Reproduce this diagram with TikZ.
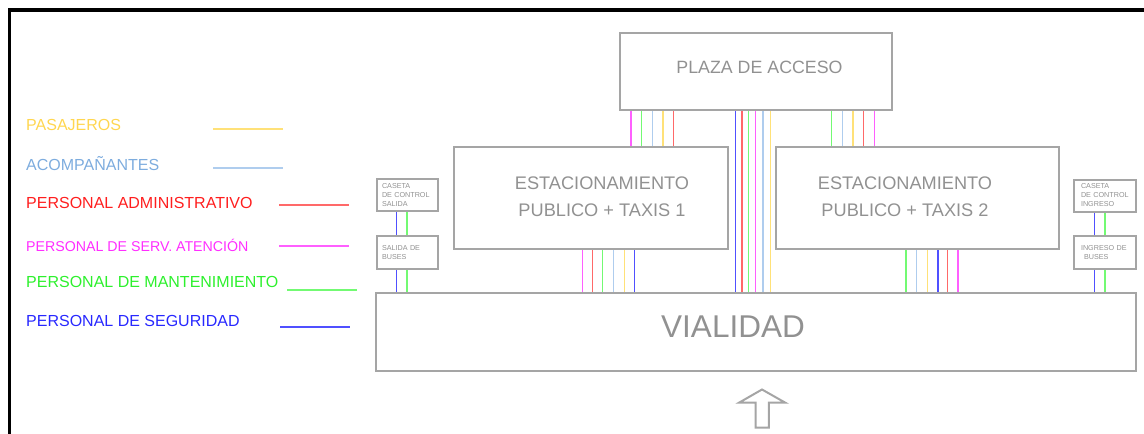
\documentclass[tikz,border=0pt]{standalone}
\usepackage{fontspec}
\setmainfont{Liberation Sans}
\definecolor{boxgray}{RGB}{165,165,165}
\definecolor{txtgray}{RGB}{145,145,145}
\definecolor{tYel}{RGB}{255,214,80}
\definecolor{tBlu}{RGB}{125,172,222}
\definecolor{tRed}{RGB}{255,30,30}
\definecolor{tMag}{RGB}{255,45,255}
\definecolor{tGrn}{RGB}{45,240,45}
\definecolor{tDbl}{RGB}{40,40,255}
\definecolor{lYel}{RGB}{255,225,120}
\definecolor{lBlu}{RGB}{175,205,238}
\definecolor{lRed}{RGB}{255,105,105}
\definecolor{lMag}{RGB}{255,95,255}
\definecolor{lGrn}{RGB}{115,250,115}
\definecolor{lDbl}{RGB}{80,80,255}
\tikzset{
  box/.style={draw=boxgray, line width=2.2pt, inner sep=0pt},
  smallbox/.style={box, line width=2pt, minimum height=32pt, font=\fontsize{7.2}{9}\selectfont, text=txtgray, align=left},
  bigtxt/.style={font=\fontsize{18.2}{27}\selectfont, text=txtgray, align=center, inner sep=0pt},
  legtxt/.style={font=\fontsize{16}{18}\selectfont, anchor=west, inner sep=0pt},
  flow/.style={line width=1.1pt},
  legline/.style={line width=1.1pt}
}
\begin{document}
\begin{tikzpicture}[x=1pt,y=-1pt]
\useasboundingbox (0,0) rectangle (1144,434);
% frame
\draw[line width=3.5pt, black] (1150,10) -- (9.5,10) -- (9.5,440);

% main boxes
\node[box, minimum width=272pt, minimum height=77pt] (plaza) at (756,71.5) {};
\node[bigtxt, font=\fontsize{17.8}{27}\selectfont] (plazat) at (759.5,67) {PLAZA DE ACCESO};
\node[box, minimum width=274pt, minimum height=102pt] (est1) at (591,198) {};
\node[bigtxt] (est1t) at (602,197) {ESTACIONAMIENTO\\PUBLICO + TAXIS 1};
\node[box, minimum width=283pt, minimum height=102pt] (est2) at (917.5,198) {};
\node[bigtxt] (est2t) at (905,197) {ESTACIONAMIENTO\\PUBLICO + TAXIS 2};
\node[box, minimum width=760pt, minimum height=78pt] (vial) at (756,332) {};
\node[font=\fontsize{31.5}{31}\selectfont, text=txtgray, inner sep=0pt] (vialt) at (733,327) {VIALIDAD};

% small boxes left
\node[smallbox, minimum width=61pt, text width=51pt, inner xsep=5pt] (cs) at (407.5,195.3) {CASETA\\DE CONTROL\\SALIDA};
\node[smallbox, minimum width=61pt, text width=51pt, inner xsep=5pt, minimum height=32.5pt] (sb) at (407.5,252.5) {SALIDA DE\\BUSES};
% small boxes right
\node[smallbox, minimum width=62pt, text width=48pt, inner xsep=7pt] (ci) at (1105,195.5) {CASETA\\DE CONTROL\\INGRESO};
\node[smallbox, minimum width=62pt, text width=48pt, inner xsep=7pt, minimum height=32.5pt] (ib) at (1105,252.5) {INGRESO DE\\\hspace*{3pt}BUSES};

% flows plaza -> est1
\foreach \x/\c in {631/lMag, 641.7/lGrn, 652.3/lBlu, 663/lYel, 673.7/lRed}
  \draw[flow, \c] (plaza.south -| \x,0) -- (est1.north -| \x,0);
% flows plaza -> est2
\foreach \x/\c in {831.7/lGrn, 842.3/lBlu, 853/lYel, 863.7/lRed, 874.3/lMag}
  \draw[flow, \c] (plaza.south -| \x,0) -- (est2.north -| \x,0);
% flows plaza -> vialidad
\foreach \x/\c in {735.3/lDbl, 742/lRed, 748.8/lGrn, 755.8/lMag, 763/lBlu, 770.3/lYel}
  \draw[flow, \c] (plaza.south -| \x,0) -- (vial.north -| \x,0);
% flows est1 -> vialidad
\foreach \x/\c in {582.2/lMag, 592.8/lRed, 602.8/lGrn, 613.4/lBlu, 624.1/lYel, 634.8/lDbl}
  \draw[flow, \c] (est1.south -| \x,0) -- (vial.north -| \x,0);
% flows est2 -> vialidad
\foreach \x/\c in {906/lGrn, 916.7/lBlu, 927.3/lYel, 938/lDbl, 947.7/lRed, 958/lMag}
  \draw[flow, \c] (est2.south -| \x,0) -- (vial.north -| \x,0);
% small boxes flows
\foreach \x/\c in {396.3/lDbl, 407/lGrn} {
  \draw[flow, \c] (cs.south -| \x,0) -- (sb.north -| \x,0);
  \draw[flow, \c] (sb.south -| \x,0) -- (vial.north -| \x,0);
}
\foreach \x/\c in {1094.3/lDbl, 1105/lGrn} {
  \draw[flow, \c] (ci.south -| \x,0) -- (ib.north -| \x,0);
  \draw[flow, \c] (ib.south -| \x,0) -- (vial.north -| \x,0);
}

% arrow
\draw[draw=boxgray, line width=2pt, line join=miter]
  (755.5,427.5) -- (755.5,402.7) -- (739,402.7) -- (762,389.5) -- (785.3,402.7)
  -- (768.8,402.7) -- (768.8,427.5) -- cycle;

% legend
\node[legtxt, text=tYel] (l1) at (26,125) {PASAJEROS};
\node[legtxt, text=tBlu] (l2) at (26,164) {ACOMPAÑANTES};
\node[legtxt, text=tRed] (l3) at (26,202.5) {PERSONAL ADMINISTRATIVO};
\node[legtxt, text=tMag, font=\fontsize{14.2}{18}\selectfont] (l4) at (26,245) {PERSONAL DE SERV. ATENCIÓN};
\node[legtxt, text=tGrn] (l5) at (26,282) {PERSONAL DE MANTENIMIENTO};
\node[legtxt, text=tDbl] (l6) at (26,321) {PERSONAL DE SEGURIDAD};
\draw[legline, lYel] (213,129) -- (283,129);
\draw[legline, lBlu] (213,168) -- (283,168);
\draw[legline, lRed] (279,205) -- (349,205);
\draw[legline, lMag] (279,246) -- (349,246);
\draw[legline, lGrn] (287,290) -- (357,290);
\draw[legline, lDbl] (280,327) -- (350,327);
\end{tikzpicture}
\end{document}
